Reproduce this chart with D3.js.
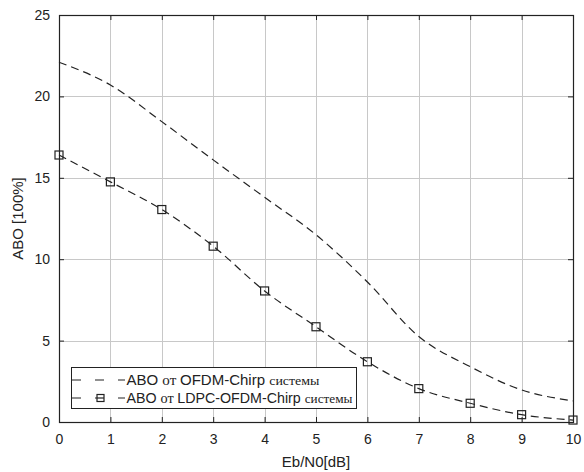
<!DOCTYPE html>
<html>
<head>
<meta charset="utf-8">
<script src="https://cdn.jsdelivr.net/npm/d3@7"></script>
<style>
  html, body { margin: 0; padding: 0; background: #fff; }
  svg { display: block; }
</style>
</head>
<body>
<svg id="chart" width="584" height="472"></svg>
<script>
// Eb/N0 points (dB)
const ebn0 = [0, 1, 2, 3, 4, 5, 6, 7, 8, 9, 10];
// ABO for the OFDM-Chirp system
const aboOfdm = [22.1, 20.7, 18.45, 16.1, 13.8, 11.5, 8.6, 5.25, 3.4, 1.97, 1.3];
// ABO for the LDPC-OFDM-Chirp system
const aboLdpc = [16.4, 14.75, 13.05, 10.8, 8.05, 5.85, 3.7, 2.05, 1.15, 0.45, 0.12];
const xTicks = [0, 1, 2, 3, 4, 5, 6, 7, 8, 9, 10];
const yTicks = [0, 5, 10, 15, 20, 25];

const svg = d3.select("#chart");
const plotL = 59, plotR = 573, plotT = 15, plotB = 422;

const x = d3.scaleLinear().domain([0, 10]).range([plotL, plotR]);
const y = d3.scaleLinear().domain([0, 25]).range([plotB, plotT]);

const sans = "Arial, 'Liberation Sans', sans-serif";
const serif = "'Times New Roman', 'Liberation Serif', serif";

// grid
const grid = svg.append("g").attr("stroke", "#c8c8c8").attr("stroke-width", 1);
xTicks.forEach(t => grid.append("line")
  .attr("x1", Math.round(x(t)) + 0.5).attr("x2", Math.round(x(t)) + 0.5)
  .attr("y1", plotT).attr("y2", plotB));
yTicks.forEach(t => grid.append("line")
  .attr("x1", plotL).attr("x2", plotR)
  .attr("y1", Math.round(y(t)) + 0.5).attr("y2", Math.round(y(t)) + 0.5));

// axes with inward ticks on all four sides
const axisStyle = g => {
  g.select(".domain").remove();
  g.selectAll(".tick line").attr("stroke", "#222");
  g.selectAll(".tick text").attr("fill", "#222")
    .attr("font-family", sans).attr("font-size", 14);
};
svg.append("g").attr("transform", `translate(0,${plotB})`)
  .call(d3.axisBottom(x).tickValues(xTicks).tickSizeInner(-5).tickPadding(12))
  .call(axisStyle);
svg.append("g").attr("transform", `translate(${plotL},0)`)
  .call(d3.axisLeft(y).tickValues(yTicks).tickSizeInner(-5).tickPadding(9))
  .call(axisStyle);
svg.append("g").attr("transform", `translate(0,${plotT})`)
  .call(d3.axisTop(x).tickValues(xTicks).tickSizeInner(-5).tickFormat(""))
  .call(axisStyle);
svg.append("g").attr("transform", `translate(${plotR},0)`)
  .call(d3.axisRight(y).tickValues(yTicks).tickSizeInner(-5).tickFormat(""))
  .call(axisStyle);

// frame
svg.append("rect")
  .attr("x", plotL + 0.5).attr("y", plotT + 0.5)
  .attr("width", plotR - plotL).attr("height", plotB - plotT)
  .attr("fill", "none").attr("stroke", "#222").attr("stroke-width", 1.2);

// curves
const line = d3.line().x(d => x(d[0])).y(d => y(d[1])).curve(d3.curveMonotoneX);
const ofdmPts = ebn0.map((e, i) => [e, aboOfdm[i]]);
const ldpcPts = ebn0.map((e, i) => [e, aboLdpc[i]]);

svg.append("path").datum(ofdmPts).attr("d", line)
  .attr("fill", "none").attr("stroke", "#222").attr("stroke-width", 1.2)
  .attr("stroke-dasharray", "8,5");
svg.append("path").datum(ldpcPts).attr("d", line)
  .attr("fill", "none").attr("stroke", "#222").attr("stroke-width", 1.2)
  .attr("stroke-dasharray", "8,5");

svg.append("g").selectAll("rect").data(ldpcPts).join("rect")
  .attr("x", d => x(d[0]) - 4).attr("y", d => y(d[1]) - 4)
  .attr("width", 8).attr("height", 8)
  .attr("fill", "none").attr("stroke", "#222").attr("stroke-width", 1.2);

// axis titles
svg.append("text").attr("x", x(5)).attr("y", 467)
  .attr("text-anchor", "middle").attr("font-family", sans).attr("font-size", 15)
  .attr("fill", "#222").text("Eb/N0[dB]");
svg.append("text").attr("transform", `translate(23,${(plotT + plotB) / 2}) rotate(-90)`)
  .attr("text-anchor", "middle").attr("font-family", sans).attr("font-size", 15)
  .attr("fill", "#222").text("ABO [100%]");

// legend
const lg = svg.append("g");
lg.append("rect").attr("x", 71.5).attr("y", 367.5).attr("width", 285).attr("height", 41)
  .attr("fill", "#fff").attr("stroke", "#222").attr("stroke-width", 1);

const rows = [
  { y: 380, name: "OFDM-Chirp  ", marker: false, width: 193 },
  { y: 398, name: "LDPC-OFDM-Chirp ", marker: true, width: 226 }
];
rows.forEach(r => {
  lg.append("line").attr("x1", 72).attr("x2", 125).attr("y1", r.y).attr("y2", r.y)
    .attr("stroke", "#222").attr("stroke-width", 1.2).attr("stroke-dasharray", "9,14");
  if (r.marker) {
    lg.append("rect").attr("x", 97).attr("y", r.y - 3.5).attr("width", 7).attr("height", 7)
      .attr("fill", "#fff").attr("stroke", "#222").attr("stroke-width", 1.2);
    lg.append("line").attr("x1", 97).attr("x2", 104).attr("y1", r.y).attr("y2", r.y)
      .attr("stroke", "#222").attr("stroke-width", 1.2);
  }
  const t = lg.append("text").attr("x", 126.5).attr("y", r.y + 5)
    .attr("font-size", 14).attr("fill", "#222")
    .attr("textLength", r.width).attr("lengthAdjust", "spacingAndGlyphs");
  t.append("tspan").attr("font-family", sans).text("ABO ");
  t.append("tspan").attr("font-family", serif).text("от ");
  t.append("tspan").attr("font-family", sans).text(r.name);
  t.append("tspan").attr("font-family", serif).attr("font-size", 13).text("системы");
});
</script>
</body>
</html>
